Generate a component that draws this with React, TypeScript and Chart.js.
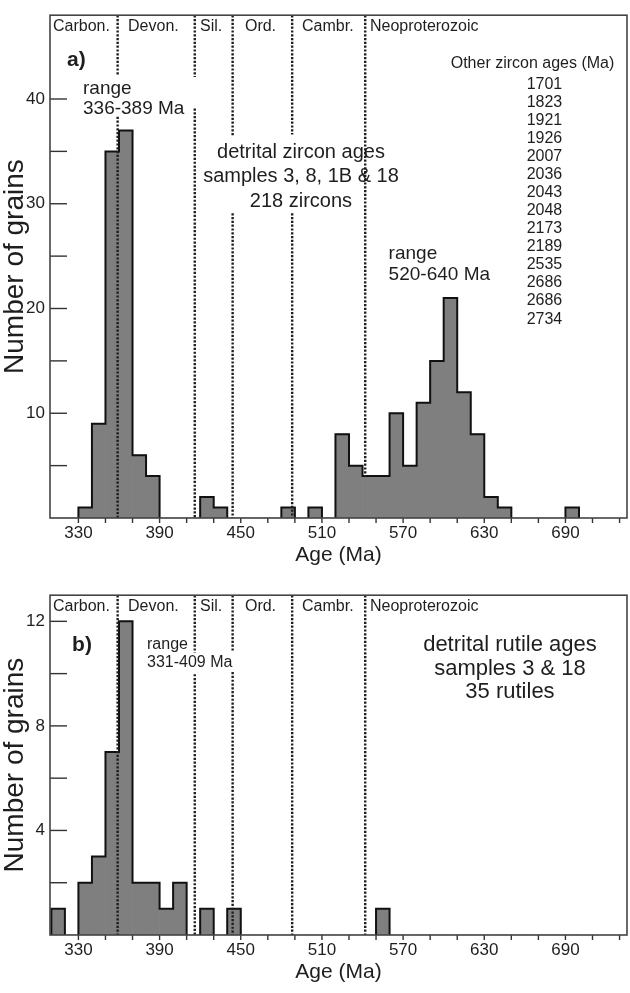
import React, { useEffect, useRef } from "react";
import { Chart, registerables } from "chart.js";

Chart.register(...registerables);

const FONT = '"Liberation Sans", Arial, Helvetica, sans-serif';
const INK = "#1e1e1e";

// ---------- data ----------
const binStarts = [
  310, 320, 330, 340, 350, 360, 370, 380, 390, 400, 410, 420, 430, 440, 450, 460, 470, 480, 490, 500,
  510, 520, 530, 540, 550, 560, 570, 580, 590, 600, 610, 620, 630, 640, 650, 660, 670, 680, 690,
];
const binWidth = 10;

const zirconCounts = [
  0, 0, 1, 9, 35, 37, 6, 4, 0, 0, 0, 2, 1, 0, 0, 0, 0, 1, 0, 1,
  0, 8, 5, 4, 4, 10, 5, 11, 15, 21, 12, 8, 2, 1, 0, 0, 0, 0, 1,
];
const rutileCounts = [
  1, 0, 2, 3, 7, 12, 2, 2, 1, 2, 0, 1, 0, 1, 0, 0, 0, 0, 0, 0,
  0, 0, 0, 0, 1, 0, 0, 0, 0, 0, 0, 0, 0, 0, 0, 0, 0, 0, 0,
];

const periodBoundaries = [359, 416, 444, 488, 542];
const periodNames = ["Carbon.", "Devon.", "Sil.", "Ord.", "Cambr.", "Neoproterozoic"];
const periodLabelAges = [311.2, 366.7, 419.9, 453.1, 495.3, 545.5];

const xTickLabels = [330, 390, 450, 510, 570, 630, 690];
const xTickMarks = [330, 350, 370, 390, 410, 430, 450, 470, 490, 510, 530, 550, 570, 590, 610, 630, 650, 670, 690, 710, 730];
const zirconYLabels = [10, 20, 30, 40];
const zirconYMarks = [5, 10, 15, 20, 25, 30, 35, 40];
const rutileYLabels = [4, 8, 12];
const rutileYMarks = [2, 4, 6, 8, 10, 12];

const otherZirconAges = [
  "1701", "1823", "1921", "1926", "2007", "2036", "2043", "2048", "2173", "2189", "2535", "2686", "2686", "2734",
];

// ---------- helpers ----------
function outlinePoints(counts: number[]) {
  const pts: { x: number; y: number | null }[] = [];
  let open = false;
  counts.forEach((c, i) => {
    const s = binStarts[i];
    if (c > 0) {
      if (!open) {
        pts.push({ x: s, y: 0 });
        open = true;
      }
      pts.push({ x: s, y: c });
    } else if (open) {
      pts.push({ x: s, y: 0 });
      pts.push({ x: s + 0.01, y: null });
      open = false;
    }
  });
  if (open) pts.push({ x: binStarts[binStarts.length - 1] + binWidth, y: 0 });
  return pts;
}

const overlayPlugin = {
  id: "overlay",
  afterDatasetsDraw(chart: any, _args: any, o: any) {
    const { ctx, chartArea: ca } = chart;
    const x = chart.scales.x;
    const y = chart.scales.y;
    ctx.save();
    ctx.beginPath();
    ctx.rect(ca.left, ca.top, ca.right - ca.left, ca.bottom - ca.top);
    ctx.clip();
    ctx.strokeStyle = INK;
    ctx.lineWidth = 2.4;
    ctx.setLineDash([2.2, 1.6]);
    (o.lines || []).forEach((ln: any) => {
      const px = x.getPixelForValue(ln.age);
      ln.segments.forEach((seg: number[]) => {
        ctx.beginPath();
        ctx.moveTo(px, y.getPixelForValue(seg[0]));
        ctx.lineTo(px, y.getPixelForValue(seg[1]));
        ctx.stroke();
      });
    });
    ctx.restore();
  },
  afterDraw(chart: any, _args: any, o: any) {
    const { ctx, chartArea: ca } = chart;
    const x = chart.scales.x;
    const y = chart.scales.y;
    ctx.save();
    // ticks
    ctx.strokeStyle = "#333";
    ctx.lineWidth = 1.4;
    (o.xMarks || []).forEach((v: number) => {
      const px = x.getPixelForValue(v);
      ctx.beginPath();
      ctx.moveTo(px, ca.bottom);
      ctx.lineTo(px, ca.bottom + 5);
      ctx.stroke();
    });
    (o.yMarks || []).forEach((v: number) => {
      const py = y.getPixelForValue(v);
      ctx.beginPath();
      ctx.moveTo(ca.left, py);
      ctx.lineTo(ca.left + 17, py);
      ctx.stroke();
    });
    // frame
    ctx.strokeStyle = "#444";
    ctx.lineWidth = 1.6;
    ctx.strokeRect(ca.left, ca.top, ca.right - ca.left, ca.bottom - ca.top);
    // texts
    ctx.fillStyle = INK;
    ctx.textBaseline = "middle";
    (o.texts || []).forEach((t: any) => {
      ctx.font = `${t.bold ? "bold " : ""}${t.size}px ${FONT}`;
      ctx.textAlign = t.align || "left";
      const lines: string[] = Array.isArray(t.text) ? t.text : [t.text];
      lines.forEach((line, i) => {
        ctx.fillText(line, x.getPixelForValue(t.x), y.getPixelForValue(t.y - i * (t.step || 0)));
      });
    });
    ctx.restore();
  },
};

function makeConfig(opts: {
  counts: number[];
  yMax: number;
  yLabels: number[];
  yMarks: number[];
  padTop: number;
  xAxisHeight: number;
  xTitlePad: number;
  lines: any[];
  texts: any[];
}) {
  return {
    type: "bar",
    data: {
      datasets: [
        {
          type: "line",
          data: outlinePoints(opts.counts),
          borderColor: "#111",
          borderWidth: 2,
          pointRadius: 0,
          stepped: "before",
          fill: false,
          spanGaps: false,
          order: 0,
        },
        {
          type: "bar",
          data: binStarts.map((s, i) => ({ x: s + binWidth / 2, y: opts.counts[i] })),
          backgroundColor: "#7f7f7f",
          borderWidth: 0,
          barPercentage: 1,
          categoryPercentage: 1,
          order: 1,
        },
      ],
    },
    options: {
      responsive: false,
      animation: false,
      devicePixelRatio: 1,
      layout: { padding: { top: opts.padTop, right: 3, left: 0, bottom: 0 } },
      plugins: {
        legend: { display: false },
        tooltip: { enabled: false },
        overlay: {
          lines: opts.lines,
          texts: opts.texts,
          xMarks: xTickMarks,
          yMarks: opts.yMarks,
        },
      },
      scales: {
        x: {
          type: "linear",
          min: 309,
          max: 735.5,
          offset: false,
          grid: { display: false, drawTicks: false, offset: false },
          border: { display: false },
          afterBuildTicks: (s: any) => {
            s.ticks = xTickLabels.map((v) => ({ value: v }));
          },
          afterFit: (s: any) => {
            s.height = opts.xAxisHeight;
          },
          ticks: {
            padding: 5,
            autoSkip: false,
            maxRotation: 0,
            color: INK,
            font: { family: FONT, size: 17 },
            callback: (v: any) => String(v),
          },
          title: {
            display: true,
            text: "Age (Ma)",
            color: INK,
            font: { family: FONT, size: 21 },
            padding: { top: 0, bottom: opts.xTitlePad },
          },
        },
        y: {
          type: "linear",
          min: 0,
          max: opts.yMax,
          grid: { display: false, drawTicks: false },
          border: { display: false },
          afterBuildTicks: (s: any) => {
            s.ticks = opts.yLabels.map((v) => ({ value: v }));
          },
          afterFit: (s: any) => {
            s.width = 50;
          },
          ticks: {
            padding: 5,
            color: INK,
            font: { family: FONT, size: 17 },
            callback: (v: any) => String(v),
          },
          title: {
            display: true,
            text: "Number of grains",
            color: INK,
            font: { family: FONT, size: 28, lineHeight: 1 },
            padding: { top: 1, bottom: 0 },
          },
        },
      },
    },
    plugins: [overlayPlugin],
  } as any;
}

function periodTexts(yVal: number) {
  return periodNames.map((n, i) => ({ text: n, x: periodLabelAges[i], y: yVal, size: 16 }));
}

const topTexts = [
  ...periodTexts(46.9),
  { text: "a)", x: 321.6, y: 43.7, size: 21, bold: true },
  { text: ["range", "336-389 Ma"], x: 333.4, y: 41.0, step: 1.95, size: 19 },
  {
    text: ["detrital zircon ages", "samples 3, 8, 1B & 18", "218 zircons"],
    x: 494.5,
    y: 34.9,
    step: 2.32,
    size: 20,
    align: "center",
  },
  { text: ["range", "520-640 Ma"], x: 559.3, y: 25.2, step: 1.95, size: 19 },
  { text: "Other zircon ages (Ma)", x: 605.2, y: 43.4, size: 16 },
  { text: otherZirconAges, x: 674.5, y: 41.4, step: 1.724, size: 16, align: "center" },
];

const bottomTexts = [
  ...periodTexts(12.55),
  { text: "b)", x: 325.3, y: 11.1, size: 21, bold: true },
  { text: ["range", "331-409 Ma"], x: 380.7, y: 11.1, step: 0.67, size: 16 },
  {
    text: ["detrital rutile ages", "samples 3 & 18", "35 rutiles"],
    x: 649.0,
    y: 11.1,
    step: 0.91,
    size: 22,
    align: "center",
  },
];

const topLines = [
  { age: periodBoundaries[0], segments: [[48, 42.2], [38.3, 0]] },
  { age: periodBoundaries[1], segments: [[48, 42.1], [39.1, 0]] },
  { age: periodBoundaries[2], segments: [[48, 36.5], [29.1, 0]] },
  { age: periodBoundaries[3], segments: [[48, 36.6], [29.1, 0]] },
  { age: periodBoundaries[4], segments: [[48, 4]] },
];
const bottomLines = [
  { age: periodBoundaries[0], segments: [[13, 0]] },
  { age: periodBoundaries[1], segments: [[13, 10.8], [9.98, 0]] },
  { age: periodBoundaries[2], segments: [[13, 10.88], [10.06, 0]] },
  { age: periodBoundaries[3], segments: [[13, 0]] },
  { age: periodBoundaries[4], segments: [[13, 0]] },
];

export default function App() {
  const topRef = useRef<HTMLCanvasElement>(null);
  const botRef = useRef<HTMLCanvasElement>(null);

  useEffect(() => {
    const c1 = new Chart(
      topRef.current as HTMLCanvasElement,
      makeConfig({
        counts: zirconCounts,
        yMax: 48,
        yLabels: zirconYLabels,
        yMarks: zirconYMarks,
        padTop: 1,
        xAxisHeight: 62,
        xTitlePad: 12,
        lines: topLines,
        texts: topTexts,
      })
    );
    const c2 = new Chart(
      botRef.current as HTMLCanvasElement,
      makeConfig({
        counts: rutileCounts,
        yMax: 13,
        yLabels: rutileYLabels,
        yMarks: rutileYMarks,
        padTop: 6,
        xAxisHeight: 58,
        xTitlePad: 8,
        lines: bottomLines,
        texts: bottomTexts,
      })
    );
    return () => {
      c1.destroy();
      c2.destroy();
    };
  }, []);

  return (
    <div style={{ position: "absolute", left: 0, top: 0, width: 630, height: 993, background: "#fff" }}>
      <canvas ref={topRef} width={630} height={580} style={{ display: "block", width: 630, height: 580 }} />
      <canvas ref={botRef} width={630} height={413} style={{ display: "block", width: 630, height: 413 }} />
    </div>
  );
}
